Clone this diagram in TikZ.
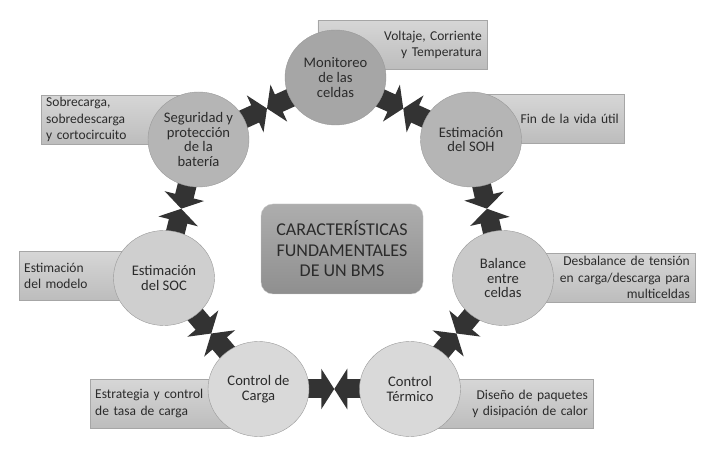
\documentclass[tikz,border=0pt]{standalone}
\usepackage{fontspec}
\setmainfont{Carlito}
\usetikzlibrary{arrows.meta,shapes.geometric}
\pgfdeclarelayer{back}
\pgfsetlayers{back,main}
\definecolor{txt}{HTML}{2B2B2B}
\definecolor{arr}{HTML}{333333}

\begin{document}
\begin{tikzpicture}[x=1pt,y=-1pt,
  main node/.style={ellipse,draw=black!40,minimum width=101pt,minimum height=95pt,
    inner sep=0pt,align=center,text=txt,font=\fontsize{14.6}{14.6}\selectfont},
  note/.style={rectangle,draw=black!35,top color=black!16,bottom color=black!26,
    minimum height=49pt,inner xsep=5pt,inner ysep=0pt,text=txt,
    font=\fontsize{13.5}{16.5}\selectfont},
  link/.style={arr,line width=19pt,shorten <=-4pt,-{Triangle[length=13pt,width=40pt]}}]
  \useasboundingbox (0,0) rectangle (726,454);

  \node[rounded corners=12pt,top color=black!32,bottom color=black!44,draw=black!22,
    minimum width=162pt,minimum height=90pt,align=center,text=txt,
    font=\fontsize{18}{20.5}\selectfont] (0) at (342,249)
    {CARACTERÍSTICAS\\FUNDAMENTALES\\DE UN BMS};

  \node[main node,fill=black!35] (1) at (335.5,77.5) {Monitoreo\\de las\\celdas};
  \node[main node,fill=black!29] (2) at (471,139.5) {Estimación\\del SOH};
  \node[main node,fill=black!21] (3) at (503,278) {Balance\\entre\\celdas};
  \node[main node,fill=black!15] (4) at (410,389) {Control\\Térmico};
  \node[main node,fill=black!15] (5) at (258.5,389) {Control de\\Carga};
  \node[main node,fill=black!19] (6) at (164,278) {Estimación\\del SOC};
  \node[main node,fill=black!29] (7) at (198.5,139.5) {Seguridad y\\protección\\de la\\batería};

  % meeting points of the arrows
  \path (1) -- coordinate[midway] (m12) (2);
  \path (2) -- coordinate[midway] (m23) (3);
  \path (3) -- coordinate[midway] (m34) (4);
  \path (4) -- coordinate[midway] (m45) (5);
  \path (5) -- coordinate[midway] (m56) (6);
  \path (6) -- coordinate[midway] (m67) (7);
  \path (7) -- coordinate[midway] (m71) (1);

  \begin{pgfonlayer}{back}
  \node[note,text width=159pt,align=right,anchor=north east] (1n) at (487,20)
    {Voltaje, Corriente\\y Temperatura};
  \node[note,text width=143pt,align=right,anchor=north east] (2n) at (624,94)
    {Fin de la vida útil};
  \node[note,text width=182pt,align=right,anchor=north east] (3n) at (695,253)
    {Desbalance de tensión\\en carga/descarga para\\multiceldas};
  \node[note,text width=173pt,align=right,anchor=north east] (4n) at (593,379)
    {Diseño de paquetes\\y disipación de calor};
  \node[note,text width=159pt,align=left,anchor=north west] (5n) at (90,379)
    {Estrategia y control\\de tasa de carga};
  \node[note,text width=135pt,align=left,anchor=north west] (6n) at (19,251)
    {Estimación\\del modelo};
  \node[note,text width=148pt,align=left,anchor=north west] (7n) at (41,95)
    {Sobrecarga,\\sobredescarga\\y cortocircuito};

  \path[link]
    (1) edge (m12) (2) edge (m12)
    (2) edge (m23) (3) edge (m23)
    (3) edge (m34) (4) edge (m34)
    (4) edge (m45) (5) edge (m45)
    (5) edge (m56) (6) edge (m56)
    (6) edge (m67) (7) edge (m67)
    (7) edge (m71) (1) edge (m71);
  \end{pgfonlayer}
\end{tikzpicture}
\end{document}
